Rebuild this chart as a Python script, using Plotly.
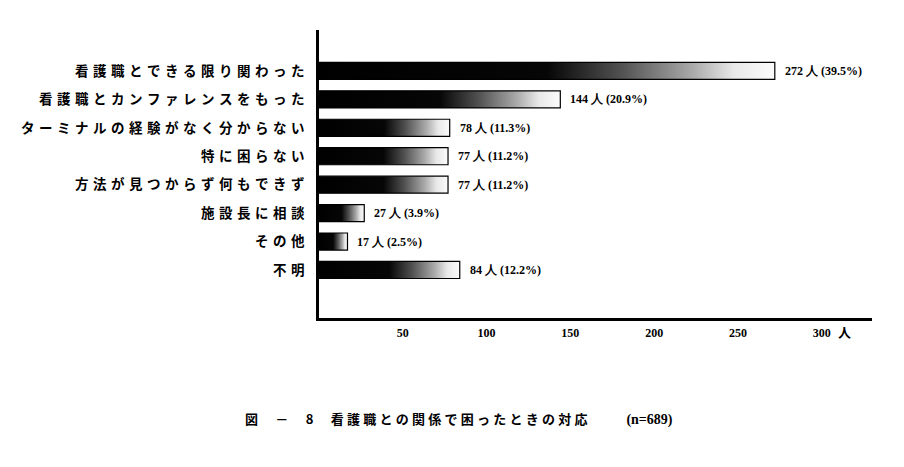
import plotly.graph_objects as go

# 図－8 看護職との関係で困ったときの対応
labels = ["看護職とできる限り関わった", "看護職とカンファレンスをもった",
          "ターミナルの経験がなく分からない", "特に困らない",
          "方法が見つからず何もできず", "施設長に相談", "その他", "不明"]
counts = [272, 144, 78, 77, 77, 27, 17, 84]
pcts = ["39.5", "20.9", "11.3", "11.2", "11.2", "3.9", "2.5", "12.2"]
x_ticks = [50, 100, 150, 200, 250, 300]

def spaced(s, sp="\u2004"):
    return sp.join(s)

grad = [[0, "#000000"], [0.5, "#060606"], [0.66, "#505050"],
        [0.82, "#aaaaaa"], [0.91, "#e8e8e8"], [1, "#fbfbfb"]]

fig = go.Figure()
half = 0.3
for i, v in enumerate(counts):
    fig.add_trace(go.Scatter(
        x=[0, v, v, 0, 0],
        y=[i - half, i - half, i + half, i + half, i - half],
        mode="lines", fill="toself",
        line=dict(color="black", width=1.2),
        fillgradient=dict(type="horizontal", colorscale=grad, start=0, stop=v),
        hoverinfo="skip", showlegend=False))
    fig.add_annotation(x=v, y=i, xref="x", yref="y", xanchor="left",
                       xshift=8, showarrow=False,
                       text=f"{v} 人 ({pcts[i]}%)",
                       font=dict(family="Liberation Serif", size=12, color="black",
                                 weight="bold"))

fig.add_annotation(x=300, y=0, xref="x", yref="paper", yanchor="top",
                   xshift=23, yshift=-2, showarrow=False, text="人",
                   font=dict(family="Noto Sans CJK JP", size=13, color="black",
                             weight="bold"))

title = (spaced("図－8", "\u3000\u2004") + "\u3000\u2004"
         + spaced("看護職との関係で困ったときの対応", "\u2005")
         + "\u3000\u3000\u3000"
         + "<span style='font-family:Liberation Serif;font-size:14px'>(n=689)</span>")
fig.add_annotation(x=(243 - 319) / 553, y=-100 / 288, xref="paper", yref="paper",
                   xanchor="left", yanchor="middle", showarrow=False,
                   text=title,
                   font=dict(family="Noto Sans CJK JP", size=13, color="black",
                             weight="bold"))

fig.update_layout(
    width=904, height=467,
    margin=dict(l=311, r=40, t=22, b=157),
    paper_bgcolor="white", plot_bgcolor="white",
    xaxis=dict(range=[0, 330], tickvals=x_ticks, showgrid=False, zeroline=False,
               showline=True, linecolor="black", linewidth=2.5, ticks="",
               ticklabelstandoff=2,
               tickfont=dict(family="Liberation Serif", size=12, color="black",
                             weight="bold")),
    yaxis=dict(range=[8.69, -1.44], tickvals=list(range(len(labels))),
               ticktext=[spaced(s) for s in labels], showgrid=False,
               zeroline=False, showline=True, linecolor="black", linewidth=2.5,
               ticks="", ticklabelstandoff=9,
               tickfont=dict(family="Noto Sans CJK JP", size=13.5, color="black",
                             weight="bold")),
)

fig.write_html("out.html")
